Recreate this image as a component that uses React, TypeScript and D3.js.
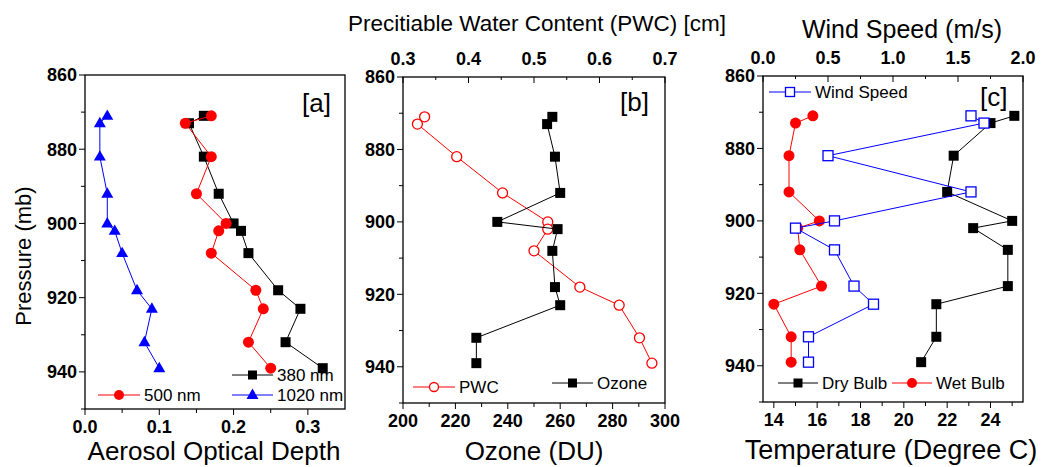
import React from 'react';
import * as d3 from 'd3';

// ---------- data ----------
const pressure = [871, 873, 882, 892, 900, 902, 908, 918, 923, 932, 939];
const pressureTicks = [860, 880, 900, 920, 940];

const aod380 = [0.16, 0.14, 0.16, 0.18, 0.2, 0.21, 0.22, 0.26, 0.29, 0.27, 0.32];
const aod500 = [0.17, 0.135, 0.17, 0.15, 0.19, 0.18, 0.17, 0.23, 0.24, 0.22, 0.25];
const aod1020 = [0.03, 0.02, 0.02, 0.03, 0.03, 0.04, 0.05, 0.07, 0.09, 0.08, 0.1];
const aodTicks = [0, 0.1, 0.2, 0.3];

const ozone = [257, 255, 258, 260, 236, 259, 257, 258, 260, 228, 228];
const pwc = [0.333, 0.322, 0.382, 0.452, 0.521, 0.521, 0.5, 0.57, 0.63, 0.661, 0.68];
const ozoneTicks = [200, 220, 240, 260, 280, 300];
const pwcTicks = [0.3, 0.4, 0.5, 0.6, 0.7];

const dryBulb = [25.1, 24.0, 22.3, 22.0, 25.0, 23.2, 24.8, 24.8, 21.5, 21.5, 20.8];
const wetBulb = [15.8, 15.0, 14.7, 14.7, 16.1, 15.1, 15.2, 16.2, 14.0, 14.8, 14.8];
const windSpeed = [1.6, 1.7, 0.5, 1.6, 0.55, 0.25, 0.55, 0.7, 0.85, 0.35, 0.35];
const tempTicks = [14, 16, 18, 20, 22, 24];
const windTicks = [0, 0.5, 1.0, 1.5, 2.0];

const FONT = "'Liberation Sans', Arial, Helvetica, sans-serif";
const RED = '#ff0000';
const BLUE = '#0000ff';

type Scale = d3.ScaleLinear<number, number>;

function range(a: number, b: number, step: number) {
  const out: number[] = [];
  for (let v = a; v <= b + 1e-9; v += step) out.push(+v.toFixed(6));
  return out;
}

function YAxis({ y, x, labels }: { y: Scale; x: number; labels: number[] }) {
  const minor = range(860, 950, 10);
  return (
    <g>
      {minor.map((v) => (
        <line key={'m' + v} x1={x} x2={x - (labels.includes(v) ? 6 : 4)} y1={y(v)} y2={y(v)} stroke="#000" strokeWidth={1} />
      ))}
      {labels.map((v) => (
        <text key={v} x={x - 8} y={y(v)} dy="0.36em" textAnchor="end" fontFamily={FONT} fontWeight="bold" fontSize={18}>
          {v}
        </text>
      ))}
    </g>
  );
}

function XAxis({
  x, y, major, minor, fmt, top,
}: { x: Scale; y: number; major: number[]; minor: number[]; fmt: (v: number) => string; top?: boolean }) {
  return (
    <g>
      {minor.map((v) => (
        <line key={'m' + v} x1={x(v)} x2={x(v)} y1={y} y2={top ? y + 3 : y + 4} stroke="#000" strokeWidth={1} />
      ))}
      {major.map((v) => (
        <line key={'M' + v} x1={x(v)} x2={x(v)} y1={y} y2={y + 6} stroke="#000" strokeWidth={1} />
      ))}
      {major.map((v) => (
        <text key={v} x={x(v)} y={top ? y - 12 : y + 24} textAnchor="middle" fontFamily={FONT} fontWeight="bold" fontSize={18}>
          {fmt(v)}
        </text>
      ))}
    </g>
  );
}

function Square({ cx, cy, open, color = '#000', s = 10 }: { cx: number; cy: number; open?: boolean; color?: string; s?: number }) {
  return (
    <rect x={cx - s / 2} y={cy - s / 2} width={s} height={s} fill={open ? '#fff' : color} stroke={color} strokeWidth={open ? 1.3 : 0} />
  );
}
function Circle({ cx, cy, open, color = RED, r = 5.5 }: { cx: number; cy: number; open?: boolean; color?: string; r?: number }) {
  return <circle cx={cx} cy={cy} r={open ? r - 0.5 : r} fill={open ? '#fff' : color} stroke={color} strokeWidth={open ? 1.3 : 0} />;
}
function Tri({ cx, cy, color = BLUE, s = 12 }: { cx: number; cy: number; color?: string; s?: number }) {
  const h = s * 0.866;
  return <path d={`M${cx},${cy - h * 0.62}L${cx + s / 2},${cy + h * 0.38}L${cx - s / 2},${cy + h * 0.38}Z`} fill={color} />;
}

function Series({
  xs, ys, x, y, color, marker, open,
}: { xs: number[]; ys: number[]; x: Scale; y: Scale; color: string; marker: 'sq' | 'ci' | 'tri'; open?: boolean }) {
  const pts = xs.map((v, i) => [x(v), y(ys[i])] as [number, number]);
  const line = d3.line()(pts) || '';
  return (
    <g>
      <path d={line} fill="none" stroke={color} strokeWidth={1} />
      {pts.map(([px, py], i) =>
        marker === 'sq' ? (
          <Square key={i} cx={px} cy={py} open={open} color={color} />
        ) : marker === 'ci' ? (
          <Circle key={i} cx={px} cy={py} open={open} color={color} />
        ) : (
          <Tri key={i} cx={px} cy={py} color={color} />
        )
      )}
    </g>
  );
}

function LegendItem({ x1, x2, y, color, marker, open, label }: { x1: number; x2: number; y: number; color: string; marker: 'sq' | 'ci' | 'tri'; open?: boolean; label: string }) {
  const cx = (x1 + x2) / 2;
  return (
    <g>
      <line x1={x1} x2={x2} y1={y} y2={y} stroke={color} strokeWidth={1} />
      {marker === 'sq' ? <Square cx={cx} cy={y} open={open} color={color} s={9} /> : marker === 'ci' ? <Circle cx={cx} cy={y} open={open} color={color} r={5} /> : <Tri cx={cx} cy={y} color={color} />}
      <text x={x2 + 4} y={y} dy="0.36em" fontFamily={FONT} fontSize={17}>
        {label}
      </text>
    </g>
  );
}

export default function App() {
  // panel a
  const aL = 85, aR = 345, aT = 75, aB = 409;
  const ya = d3.scaleLinear().domain([860, 950]).range([aT, aB]);
  const xa = d3.scaleLinear().domain([0, 0.35]).range([aL, aR]);
  // panel b
  const bL = 403, bR = 665, bT = 77, bB = 403;
  const yb = d3.scaleLinear().domain([860, 950]).range([bT, bB]);
  const xbOz = d3.scaleLinear().domain([200, 300]).range([bL, bR]);
  const xbPwc = d3.scaleLinear().domain([0.3, 0.7]).range([bL, bR]);
  // panel c
  const cL = 763, cR = 1023, cT = 76, cB = 402;
  const yc = d3.scaleLinear().domain([860, 950]).range([cT, cB]);
  const xcT = d3.scaleLinear().domain([13.5, 25.5]).range([cL, cR]);
  const xcW = d3.scaleLinear().domain([0, 2]).range([cL, cR]);

  const f1 = d3.format('.1f');

  return (
    <svg width={1043} height={467} style={{ position: 'absolute', left: 0, top: 0, background: '#fff' }}>
      <rect width={1043} height={467} fill="#fff" />

      {/* ---------- Panel a ---------- */}
      <YAxis y={ya} x={aL} labels={pressureTicks} />
      <XAxis x={xa} y={aB} major={aodTicks} minor={[0.05, 0.15, 0.25]} fmt={f1} />
      <Series xs={aod1020} ys={pressure} x={xa} y={ya} color={BLUE} marker="tri" />
      <Series xs={aod380} ys={pressure} x={xa} y={ya} color="#000" marker="sq" />
      <Series xs={aod500} ys={pressure} x={xa} y={ya} color={RED} marker="ci" />
      <rect x={aL} y={aT} width={aR - aL} height={aB - aT} fill="none" stroke="#000" strokeWidth={1.3} />
      <text x={302} y={112} fontFamily={FONT} fontSize={26}>[a]</text>
      <LegendItem x1={232} x2={273} y={375} color="#000" marker="sq" label="380 nm" />
      <LegendItem x1={98} x2={140} y={395} color={RED} marker="ci" label="500 nm" />
      <LegendItem x1={232} x2={273} y={395} color={BLUE} marker="tri" label="1020 nm" />
      <text x={(aL + aR) / 2 - 1} y={460} textAnchor="middle" fontFamily={FONT} fontSize={26}>Aerosol Optical Depth</text>
      <text transform={`translate(31,256) rotate(-90)`} textAnchor="middle" fontFamily={FONT} fontSize={22}>Pressure (mb)</text>

      {/* ---------- Panel b ---------- */}
      <YAxis y={yb} x={bL} labels={pressureTicks} />
      <XAxis x={xbOz} y={bB} major={ozoneTicks} minor={range(210, 290, 20)} fmt={(v) => String(v)} />
      <XAxis x={xbPwc} y={bT} major={pwcTicks} minor={[0.35, 0.45, 0.55, 0.65]} fmt={f1} top />
      <Series xs={pwc} ys={pressure} x={xbPwc} y={yb} color={RED} marker="ci" open />
      <Series xs={ozone} ys={pressure} x={xbOz} y={yb} color="#000" marker="sq" />
      <rect x={bL} y={bT} width={bR - bL} height={bB - bT} fill="none" stroke="#000" strokeWidth={1.3} />
      <text x={620} y={111} fontFamily={FONT} fontSize={26}>[b]</text>
      <LegendItem x1={413} x2={455} y={387} color={RED} marker="ci" open label="PWC" />
      <LegendItem x1={552} x2={593} y={383} color="#000" marker="sq" label="Ozone" />
      <text x={(bL + bR) / 2} y={460} textAnchor="middle" fontFamily={FONT} fontSize={26}>Ozone (DU)</text>
      <text x={537} y={31} textAnchor="middle" fontFamily={FONT} fontSize={22.5}>Precitiable Water Content (PWC) [cm]</text>

      {/* ---------- Panel c ---------- */}
      <YAxis y={yc} x={cL} labels={pressureTicks} />
      <XAxis x={xcT} y={cB} major={tempTicks} minor={range(15, 25, 2)} fmt={(v) => String(v)} />
      <XAxis x={xcW} y={cT} major={windTicks} minor={[0.25, 0.75, 1.25, 1.75]} fmt={f1} top />
      <Series xs={dryBulb} ys={pressure} x={xcT} y={yc} color="#000" marker="sq" />
      <Series xs={wetBulb} ys={pressure} x={xcT} y={yc} color={RED} marker="ci" />
      <Series xs={windSpeed} ys={pressure} x={xcW} y={yc} color={BLUE} marker="sq" open />
      <rect x={cL} y={cT} width={cR - cL} height={cB - cT} fill="none" stroke="#000" strokeWidth={1.3} />
      <text x={980} y={106} fontFamily={FONT} fontSize={26}>[c]</text>
      <LegendItem x1={769} x2={811} y={92} color={BLUE} marker="sq" open label="Wind Speed" />
      <LegendItem x1={778} x2={818} y={383} color="#000" marker="sq" label="Dry Bulb" />
      <LegendItem x1={892} x2={932} y={383} color={RED} marker="ci" label="Wet Bulb" />
      <text x={891} y={459} textAnchor="middle" fontFamily={FONT} fontSize={27}>Temperature (Degree C)</text>
      <text x={902} y={38} textAnchor="middle" fontFamily={FONT} fontSize={25}>Wind Speed (m/s)</text>
    </svg>
  );
}
